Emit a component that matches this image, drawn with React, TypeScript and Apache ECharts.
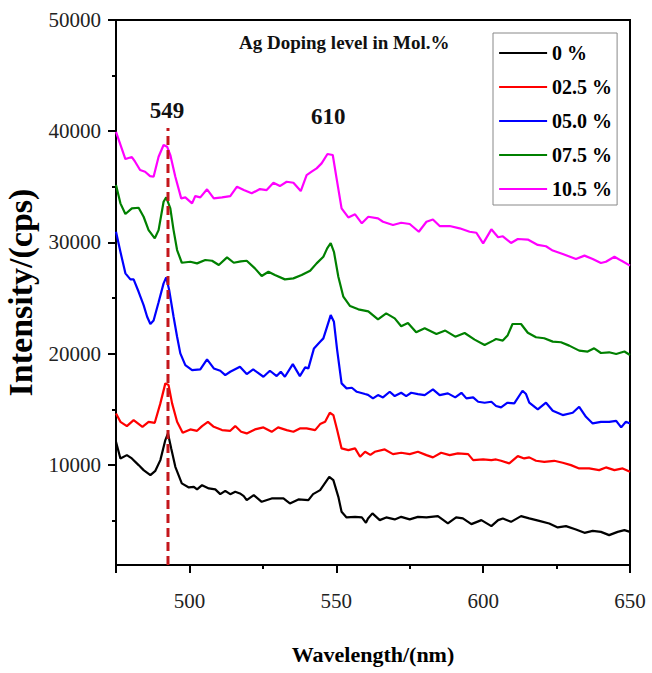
import React, { useEffect, useRef } from "react";
import * as echarts from "echarts";

const FONT = '"Liberation Serif", "Times New Roman", serif';

const seriesNames = ["0 %", "02.5 %", "05.0 %", "07.5 %", "10.5 %"];
const seriesColors = ["#000000", "#ff0000", "#0000ff", "#008000", "#ff00ff"];

const xLabelValues = [500, 550, 600, 650];
const xMajorTicks = [475, 500, 550, 600, 650];
const xMinorTicks = [525, 575, 625];
const yLabelValues = [10000, 20000, 30000, 40000, 50000];
const yMinorTicks = [5000, 15000, 25000, 35000, 45000];

const peakLine = [[492.7, 1000], [492.7, 40300]];
const peakLabels = [[492.4, 41900, "549"], [547.3, 41280, "610"]];

const black0 = [
  [475.0, 12080], [476.5, 10580], [478.7, 10880], [480.4, 10580], [482.7, 9982], [484.4, 9530],
  [486.7, 9082], [488.4, 9470], [490.1, 10430], [491.8, 12230], [492.7, 12830], [493.8, 11480],
  [495.2, 9830], [497.4, 8335], [499.8, 7975], [501.5, 8030], [502.6, 7795], [504.3, 8180],
  [506.6, 7885], [508.8, 7795], [510.5, 7372], [512.2, 7670], [513.9, 7372], [515.6, 7580],
  [517.2, 7435], [518.5, 7195], [519.5, 6834], [521.9, 7284], [524.6, 6680], [528.0, 6985],
  [532.0, 6985], [534.2, 6537], [537.1, 6895], [540.5, 6834], [542.1, 7372], [544.5, 7733],
  [546.2, 8390], [547.6, 8930], [549.0, 8633], [550.7, 7130], [551.8, 5780], [553.5, 5277],
  [556.4, 5330], [558.7, 5277], [560.1, 4793], [560.8, 5187], [562.3, 5640], [564.8, 5035],
  [567.0, 5277], [569.9, 5100], [572.1, 5330], [575.0, 5100], [577.8, 5330], [580.7, 5277],
  [584.6, 5395], [588.0, 4735], [590.8, 5277], [593.1, 5187], [596.0, 4675], [599.4, 5035],
  [602.8, 4495], [605.1, 5035], [606.7, 5187], [609.5, 4880], [612.9, 5395], [615.7, 5187],
  [619.1, 4970], [622.5, 4735], [625.4, 4380], [628.2, 4495], [631.6, 4195], [634.5, 3892],
  [637.3, 4070], [640.1, 3980], [642.9, 3685], [645.8, 3980], [648.1, 4135], [650.0, 3980],
];

const red25 = [
  [475.0, 14630], [476.5, 13875], [478.7, 13490], [481.0, 14030], [484.0, 13425], [486.1, 13875],
  [488.2, 13785], [490.1, 15530], [491.8, 17330], [492.9, 17175], [494.1, 15530], [495.8, 13875],
  [497.7, 12885], [500.3, 13190], [502.6, 13065], [504.3, 13490], [506.3, 13875], [508.3, 13425],
  [511.1, 13130], [513.9, 13065], [515.6, 13490], [517.6, 12975], [519.5, 12830], [522.3, 13190],
  [525.2, 13370], [528.0, 12975], [530.2, 13370], [533.1, 13130], [535.4, 12975], [537.6, 13280],
  [539.9, 13280], [542.8, 13130], [544.5, 13670], [546.2, 13875], [547.8, 14685], [549.0, 14480],
  [550.3, 13130], [551.8, 11480], [554.1, 11330], [556.4, 11480], [558.1, 10730], [559.8, 11180],
  [561.6, 10900], [563.1, 11180], [566.5, 11390], [569.3, 10970], [572.1, 11090], [575.0, 10970],
  [577.8, 11180], [580.7, 10880], [582.9, 10675], [585.7, 11090], [588.6, 10880], [591.4, 11030],
  [594.9, 10970], [596.6, 10430], [600.0, 10490], [602.8, 10430], [604.4, 10490], [606.1, 10370],
  [608.9, 10135], [611.8, 10790], [614.0, 10580], [615.7, 10675], [618.0, 10370], [620.8, 10280],
  [624.2, 10370], [627.1, 10190], [629.9, 9980], [632.7, 9685], [636.1, 9685], [639.5, 9530],
  [641.8, 9775], [644.7, 9530], [647.5, 9685], [650.0, 9380],
];

const blue50 = [
  [475.0, 30960], [476.5, 29160], [478.2, 27220], [479.9, 26680], [481.0, 26680], [482.7, 25565],
  [484.4, 24370], [485.6, 23320], [486.7, 22670], [487.8, 22975], [489.5, 24620], [491.2, 26320],
  [492.1, 26860], [493.1, 25720], [494.6, 23320], [495.8, 21520], [496.9, 20026], [498.6, 18975],
  [500.9, 18525], [503.7, 18585], [506.0, 19485], [508.3, 18675], [510.5, 18465], [512.2, 18075],
  [513.9, 18375], [517.2, 18825], [519.5, 18165], [521.7, 18585], [525.2, 17925], [527.4, 18465],
  [529.7, 17985], [531.1, 18375], [532.5, 17925], [535.2, 19065], [537.6, 17985], [539.4, 18770],
  [540.5, 18675], [542.4, 20475], [544.5, 21070], [545.6, 21375], [546.9, 22460], [548.1, 23470],
  [549.2, 22870], [550.3, 20325], [551.8, 17330], [553.5, 16880], [555.3, 16935], [557.0, 16575],
  [559.8, 16370], [560.8, 16300], [562.5, 15980], [564.2, 16280], [565.9, 16070], [568.2, 16575],
  [569.9, 16190], [572.1, 16485], [573.8, 16190], [575.5, 16485], [577.8, 16370], [580.1, 16280],
  [582.9, 16790], [585.2, 16280], [588.0, 16430], [590.5, 16070], [592.6, 16485], [594.3, 15980],
  [596.6, 16070], [598.3, 15675], [600.5, 15590], [602.8, 15675], [604.4, 15300], [606.1, 15170],
  [608.3, 15590], [610.6, 15530], [613.4, 16665], [614.6, 16370], [615.7, 15590], [618.6, 14990],
  [621.4, 15590], [623.7, 14865], [627.1, 14480], [630.5, 14685], [632.7, 15225], [635.0, 14325],
  [637.3, 13730], [640.1, 13875], [642.9, 13875], [645.3, 13965], [647.0, 13370], [648.6, 13875],
  [650.0, 13730],
];

const green75 = [
  [475.0, 35160], [476.5, 33515], [478.2, 32555], [480.4, 33065], [482.7, 33120], [484.4, 32310],
  [486.1, 31110], [488.2, 30370], [489.5, 31110], [491.2, 33660], [492.1, 34050], [493.5, 33065],
  [494.6, 31110], [495.8, 29316], [497.4, 28175], [500.3, 28265], [502.6, 28120], [505.4, 28420],
  [507.7, 28355], [510.0, 27970], [512.8, 28660], [515.1, 28175], [517.5, 28300], [519.5, 28355],
  [522.3, 27670], [524.6, 26980], [526.9, 27370], [529.1, 27070], [532.5, 26680], [535.4, 26770],
  [538.2, 27070], [541.1, 27460], [543.3, 28120], [545.6, 28715], [546.9, 29470], [548.1, 29950],
  [549.2, 29160], [550.7, 26920], [552.4, 25120], [554.7, 24280], [557.5, 23985], [560.9, 23800],
  [564.2, 23080], [567.0, 23620], [569.9, 23175], [572.1, 22460], [574.4, 22755], [577.2, 21920],
  [580.1, 22280], [584.1, 21770], [587.1, 22075], [590.5, 21530], [593.7, 21855], [597.1, 21265],
  [600.5, 20780], [603.4, 21175], [604.4, 21320], [606.7, 21175], [608.3, 21625], [610.0, 22670],
  [612.9, 22670], [615.2, 21880], [618.0, 21475], [620.8, 21385], [623.7, 21085], [626.5, 21025],
  [629.3, 20725], [632.7, 20275], [635.6, 20190], [637.8, 20485], [640.1, 20060], [642.9, 20125],
  [645.3, 19970], [648.1, 20190], [650.0, 19880],
];

const magenta105 = [
  [475.0, 39950], [478.2, 37500], [480.4, 37680], [481.5, 37260], [483.2, 36510], [484.9, 36360],
  [486.6, 35970], [487.8, 35910], [489.5, 37710], [491.2, 38760], [492.4, 38610], [493.5, 37860],
  [495.2, 35910], [497.2, 33965], [498.6, 34050], [500.9, 33515], [502.0, 34170], [503.7, 34050],
  [506.0, 34780], [508.3, 33965], [511.1, 34050], [513.9, 34170], [516.2, 35010], [518.5, 34710],
  [521.2, 34415], [524.0, 34800], [526.3, 34710], [528.6, 35370], [530.8, 35070], [533.1, 35460],
  [535.4, 35370], [537.9, 34620], [539.9, 36060], [541.6, 36360], [543.3, 36660], [545.0, 37110],
  [547.0, 37950], [548.8, 37860], [550.1, 35760], [551.8, 33065], [554.1, 32250], [556.4, 32530],
  [558.7, 31720], [560.9, 32310], [564.2, 32170], [565.9, 31860], [569.3, 31570], [572.1, 31770],
  [575.0, 31660], [578.1, 30960], [580.7, 31860], [582.9, 32070], [585.2, 31475], [588.6, 31475],
  [592.0, 31270], [595.4, 30960], [597.7, 30875], [600.0, 29920], [602.8, 31180], [605.1, 30465],
  [606.7, 30555], [609.5, 29950], [611.8, 30310], [615.2, 30260], [618.6, 29775], [621.4, 29655],
  [623.7, 29270], [627.1, 28960], [631.6, 28510], [634.5, 28815], [637.3, 28510], [640.1, 28150],
  [641.8, 28270], [644.7, 28720], [647.0, 28370], [650.0, 27920],
];

const seriesData = [black0, red25, blue50, green75, magenta105];

export default function App() {
  const ref = useRef<HTMLDivElement>(null);

  useEffect(() => {
    if (!ref.current) return;
    const chart = echarts.init(ref.current, null, { renderer: "svg" });

    const lineSeries = seriesNames.map((name, i) => ({
      name,
      type: "line",
      xAxisIndex: 0,
      yAxisIndex: 0,
      data: seriesData[i],
      showSymbol: false,
      symbol: "none",
      smooth: false,
      lineStyle: { color: seriesColors[i], width: 2.2 },
      itemStyle: { color: seriesColors[i] },
      z: 3,
    }));

    const plainNumber = (v: number) => String(v);

    const option: any = {
      animation: false,
      backgroundColor: "#ffffff",
      title: {
        text: "Ag Doping level in Mol.%",
        left: 239,
        top: 33,
        padding: 0,
        textStyle: { fontFamily: FONT, fontWeight: "bold", fontSize: 19, color: "#111" },
      },
      legend: {
        data: seriesNames,
        orient: "vertical",
        left: 493,
        top: 33,
        padding: [10, 5, 6, 5],
        itemGap: 14,
        itemWidth: 48,
        itemHeight: 14,
        borderColor: "#888",
        borderWidth: 1,
        itemStyle: { opacity: 0 },
        lineStyle: { width: 2.2 },
        textStyle: { fontFamily: FONT, fontWeight: "bold", fontSize: 20, color: "#000", lineHeight: 20 },
      },
      grid: {
        left: 116,
        right: 22,
        top: 20,
        bottom: 108,
        show: true,
        borderColor: "#000",
        borderWidth: 2,
        backgroundColor: "transparent",
        containLabel: false,
        outerBoundsMode: "none",
      },
      xAxis: [
        {
          type: "value",
          min: 475,
          max: 650,
          position: "bottom",
          name: "Wavelength/(nm)",
          nameLocation: "middle",
          nameGap: 78,
          nameTextStyle: { fontFamily: FONT, fontWeight: "bold", fontSize: 22, color: "#000" },
          axisLine: { show: true, onZero: false, lineStyle: { color: "#000", width: 2 } },
          axisTick: { show: true, customValues: xMajorTicks, length: 8, lineStyle: { color: "#000", width: 2 } },
          axisLabel: { customValues: xLabelValues, formatter: plainNumber, fontFamily: FONT, fontSize: 21, color: "#222", margin: 25 },
          splitLine: { show: false },
        },
        {
          type: "value",
          min: 475,
          max: 650,
          position: "bottom",
          axisLine: { show: false },
          axisTick: { show: true, customValues: xMinorTicks, length: 4, lineStyle: { color: "#000", width: 2 } },
          axisLabel: { show: false },
          splitLine: { show: false },
        },
      ],
      yAxis: [
        {
          type: "value",
          min: 1000,
          max: 50000,
          position: "left",
          name: "Intensity/(cps)",
          nameLocation: "middle",
          nameGap: 64,
          nameRotate: 90,
          nameTextStyle: { fontFamily: FONT, fontWeight: "bold", fontSize: 34, color: "#000" },
          axisLine: { show: true, onZero: false, lineStyle: { color: "#000", width: 2 } },
          axisTick: { show: true, customValues: yLabelValues, length: 8, lineStyle: { color: "#000", width: 2 } },
          axisLabel: { customValues: yLabelValues, formatter: plainNumber, fontFamily: FONT, fontSize: 21, color: "#222", margin: 15 },
          splitLine: { show: false },
        },
        {
          type: "value",
          min: 1000,
          max: 50000,
          position: "left",
          axisLine: { show: false },
          axisTick: { show: true, customValues: yMinorTicks, length: 4, lineStyle: { color: "#000", width: 2 } },
          axisLabel: { show: false },
          splitLine: { show: false },
        },
      ],
      series: [
        ...lineSeries,
        {
          name: "peak549",
          type: "line",
          xAxisIndex: 0,
          yAxisIndex: 0,
          data: peakLine,
          showSymbol: false,
          symbol: "none",
          silent: true,
          lineStyle: { color: "#c4161c", width: 3, type: [9, 5] },
          z: 5,
        },
        {
          name: "peakLabels",
          type: "scatter",
          xAxisIndex: 0,
          yAxisIndex: 0,
          data: peakLabels,
          symbolSize: 0,
          itemStyle: { color: "#111111" },
          silent: true,
          label: {
            show: true,
            position: "inside",
            formatter: (p: any) => p.value[2],
            fontFamily: FONT,
            fontWeight: "bold",
            fontSize: 23,
            color: "#111111",
            opacity: 1,
            textBorderWidth: 0,
          },
          z: 6,
        },
      ],
    };

    chart.setOption(option);
    return () => chart.dispose();
  }, []);

  return (
    <div
      ref={ref}
      style={{ position: "fixed", left: 0, top: 0, width: 652, height: 673, background: "#fff" }}
    />
  );
}
